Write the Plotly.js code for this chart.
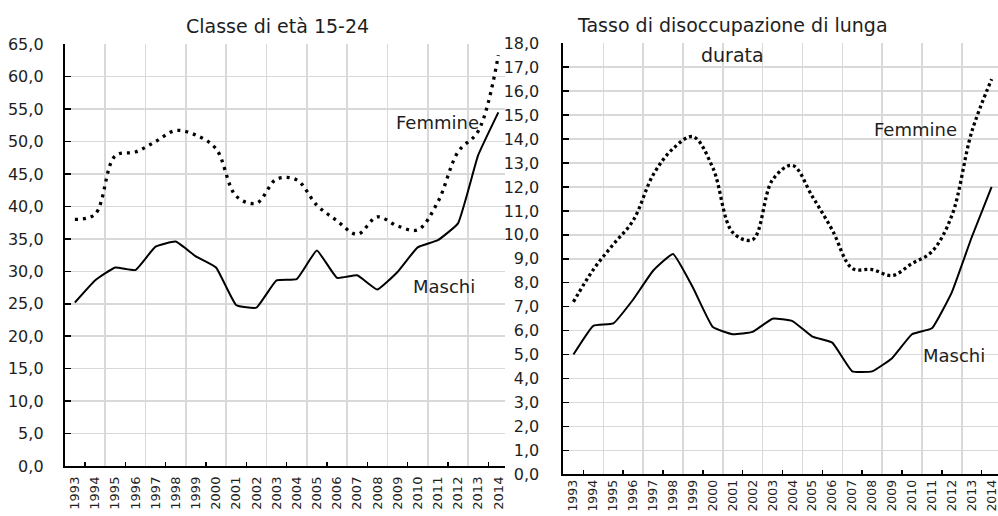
<!DOCTYPE html>
<html>
<head>
<meta charset="utf-8">
<script src="https://cdn.plot.ly/plotly-3.0.1.min.js"></script>
<style>html,body{margin:0;padding:0;background:#fff;}#chart{width:998px;height:516px;}</style>
</head>
<body>
<div id="chart"></div>
<script>
// ---- data ----
const years = [1993,1994,1995,1996,1997,1998,1999,2000,2001,2002,2003,2004,2005,2006,2007,2008,2009,2010,2011,2012,2013,2014];
const yearLabels = years.map(String);
// Classe di età 15-24
const femmineGiovani = [38.0,38.8,47.8,48.4,50.0,51.7,51.0,48.9,41.6,40.5,44.2,44.1,40.2,37.8,35.7,38.4,37.0,36.4,40.7,48.4,51.6,63.3];
const maschiGiovani  = [25.2,28.6,30.6,30.2,33.8,34.6,32.3,30.6,24.8,24.4,28.6,28.8,33.2,29.0,29.4,27.2,29.9,33.7,34.8,37.4,47.9,54.5];
// Tasso di disoccupazione di lunga durata
const femmineLunga = [7.2,8.55,9.6,10.6,12.5,13.6,14.1,12.8,10.1,9.8,12.3,12.9,11.6,10.2,8.6,8.55,8.3,8.8,9.3,10.8,14.3,16.5];
const maschiLunga  = [5.0,6.2,6.3,7.3,8.5,9.2,7.8,6.15,5.85,5.95,6.5,6.4,5.75,5.5,4.3,4.3,4.85,5.85,6.1,7.6,9.9,12.0];

const titles = ['Classe di età 15-24', 'Tasso di disoccupazione di lunga', 'durata'];
const seriesNames = ['Femmine', 'Maschi'];

// ---- helpers ----
const gridVals = years.filter((y,i)=> i%2===1 && i<years.length-1).map(y=>y+0.5);   // 1994.5, 1996.5 ...
const tickMarkVals = years.filter((y,i)=> i%2===0 && i<years.length-1).map(y=>y+0.5); // 1993.5, 1995.5 ...

const FONT = 'DejaVu Sans, sans-serif';
const TXT = '#1e1e1e';
const GRID = '#d9d9d9';

function baseX(domain, range) {
  return {
    domain: domain, range: range, fixedrange: true,
    tickmode: 'array', tickvals: gridVals, showticklabels: false, ticks: '',
    showgrid: true, gridcolor: GRID, gridwidth: 1.5,
    showline: true, linecolor: '#000', linewidth: 2, zeroline: false,
    minor: {tickmode: 'array', tickvals: tickMarkVals, ticks: 'inside', ticklen: 4, tickwidth: 1.5, tickcolor: '#000', showgrid: false}
  };
}
function labelX(over, anchor, range, standoff, size) {
  return {
    overlaying: over, anchor: anchor, range: range, fixedrange: true,
    tickmode: 'array', tickvals: years, ticktext: yearLabels, tickangle: -90,
    ticks: '', showgrid: false, showline: false, zeroline: false,
    ticklabelstandoff: standoff, ticklabeloverflow: 'allow',
    tickfont: {family: FONT, size: size, color: TXT}
  };
}
function baseY(domain, range, dtick, anchor, standoff) {
  return {
    domain: domain, range: range, anchor: anchor, fixedrange: true,
    tickmode: 'linear', tick0: 0, dtick: dtick, tickformat: '.1f',
    ticks: 'inside', ticklen: 6, tickwidth: 1.5, tickcolor: '#000',
    showgrid: true, gridcolor: GRID, gridwidth: 1.5,
    showline: true, linecolor: '#000', linewidth: 2, zeroline: false,
    ticklabelstandoff: standoff,
    tickfont: {family: FONT, size: 16, color: TXT}
  };
}

const rangeL = [1992.5, 2014.33];
const rangeR = [1992.5, 2014.32];

const dotL = {color: '#000', width: 3.3, dash: '3px,5px', shape: 'spline', smoothing: 1};
const dotR = {color: '#000', width: 3.3, dash: '3px,3px', shape: 'spline', smoothing: 1};
const solid = {color: '#000', width: 2, shape: 'spline', smoothing: 0.35};

const traces = [
  {x: years, y: femmineGiovani, name: seriesNames[0], mode: 'lines', line: dotL, xaxis: 'x', yaxis: 'y'},
  {x: years, y: maschiGiovani, name: seriesNames[1], mode: 'lines', line: solid, xaxis: 'x', yaxis: 'y'},
  {x: years, y: femmineLunga, name: seriesNames[0], mode: 'lines', line: dotR, xaxis: 'x2', yaxis: 'y2'},
  {x: years, y: maschiLunga, name: seriesNames[1], mode: 'lines', line: solid, xaxis: 'x2', yaxis: 'y2'},
  {x: [], y: [], xaxis: 'x3', yaxis: 'y', hoverinfo: 'skip'},
  {x: [], y: [], xaxis: 'x4', yaxis: 'y2', hoverinfo: 'skip'}
];

const layout = {
  width: 998, height: 516,
  margin: {l: 0, r: 0, t: 0, b: 0},
  paper_bgcolor: '#fff', plot_bgcolor: '#fff',
  showlegend: false,
  separators: ',.',
  font: {family: FONT, color: TXT},
  xaxis: Object.assign(baseX([0.0649, 0.506], rangeL), {anchor: 'y'}),
  xaxis2: Object.assign(baseX([0.5646, 1], rangeR), {anchor: 'y2'}),
  xaxis3: labelX('x', 'y', rangeL, 7, 13),
  xaxis4: labelX('x2', 'y2', rangeR, 2, 12.5),
  yaxis: baseY([0.0969, 0.9142], [0, 65], 5, 'x', 16),
  yaxis2: baseY([0.0808, 0.9161], [0, 18], 1, 'x2', 19),
  annotations: [
    {text: titles[0], xref: 'paper', yref: 'paper', x: 277/998, y: 1-26/516, xanchor: 'center', yanchor: 'middle', showarrow: false, font: {family: FONT, size: 19, color: TXT}},
    {text: titles[1], xref: 'paper', yref: 'paper', x: 732/998, y: 1-25/516, xanchor: 'center', yanchor: 'middle', showarrow: false, font: {family: FONT, size: 19, color: TXT}},
    {text: titles[2], xref: 'paper', yref: 'paper', x: 732/998, y: 1-55/516, xanchor: 'center', yanchor: 'middle', showarrow: false, font: {family: FONT, size: 19, color: TXT}},
    {text: seriesNames[0], xref: 'x', yref: 'y', x: 2011.0, y: 53.0, xanchor: 'center', yanchor: 'middle', showarrow: false, font: {family: FONT, size: 18, color: TXT}},
    {text: seriesNames[1], xref: 'x', yref: 'y', x: 2011.32, y: 27.6, xanchor: 'center', yanchor: 'middle', showarrow: false, font: {family: FONT, size: 18, color: TXT}},
    {text: seriesNames[0], xref: 'x2', yref: 'y2', x: 2010.2, y: 14.42, xanchor: 'center', yanchor: 'middle', showarrow: false, font: {family: FONT, size: 18, color: TXT}},
    {text: seriesNames[1], xref: 'x2', yref: 'y2', x: 2012.1, y: 4.98, xanchor: 'center', yanchor: 'middle', showarrow: false, font: {family: FONT, size: 18, color: TXT}}
  ]
};

Plotly.newPlot('chart', traces, layout, {staticPlot: true, displayModeBar: false});
</script>
</body>
</html>
